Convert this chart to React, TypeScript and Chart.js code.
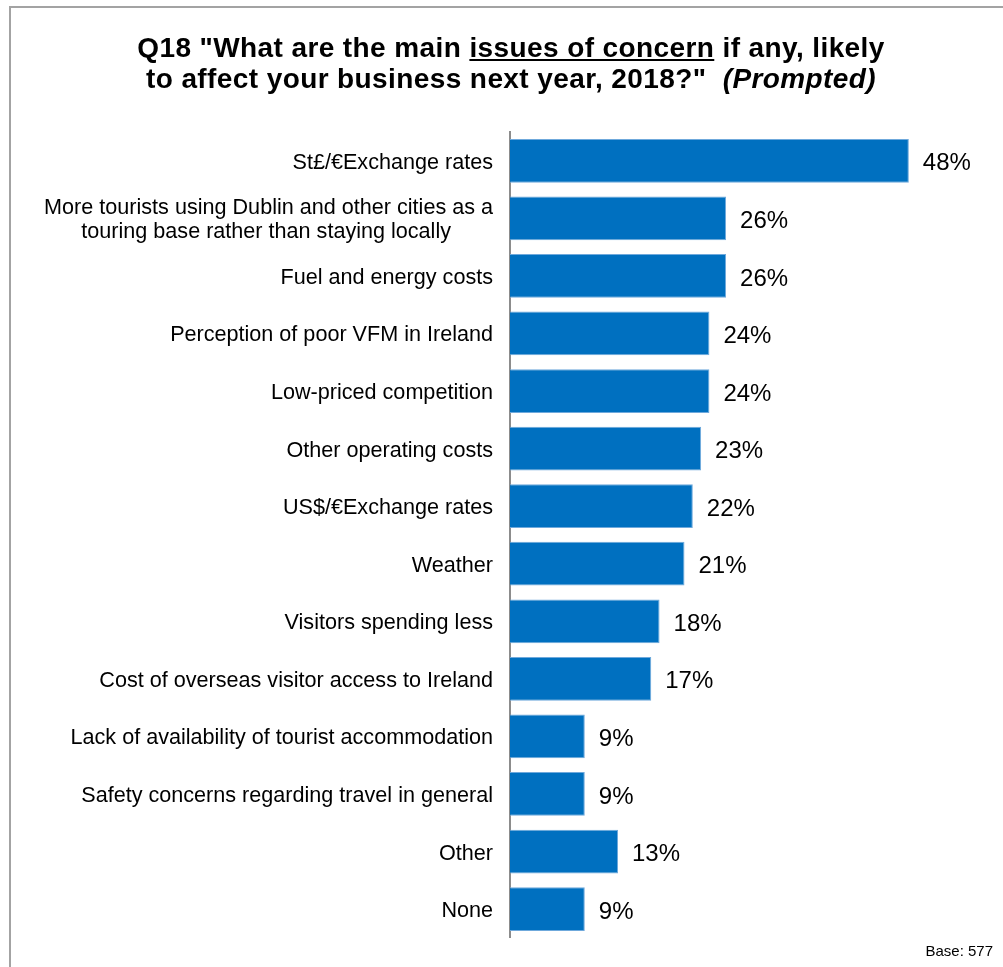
import React, { useEffect, useRef } from 'react';
import { Chart, registerables } from 'chart.js';

Chart.register(...registerables);

const categories: (string | string[])[] = [
  'St£/€Exchange rates',
  ['More tourists using Dublin and other cities as a', 'touring base rather than staying locally'],
  'Fuel and energy costs',
  'Perception of poor VFM in Ireland',
  'Low-priced competition',
  'Other operating costs',
  'US$/€Exchange rates',
  'Weather',
  'Visitors spending less',
  'Cost of overseas visitor access to Ireland',
  'Lack of availability of tourist accommodation',
  'Safety concerns regarding travel in general',
  'Other',
  'None',
];
const values = [48, 26, 26, 24, 24, 23, 22, 21, 18, 17, 9, 9, 13, 9];
const valueLabels = values.map((v) => `${v}%`);
const xMin = 0;
const xMax = 55;
const baseText = 'Base: 577';

const FONT = '"Liberation Sans", Arial, Helvetica, sans-serif';
const LABEL_FONT_SIZE = 21.6;

// centre the lines of multi-line category labels (right-aligned by the axis)
let measureCtx: CanvasRenderingContext2D | null = null;
function centreLines(label: string | string[]): string | string[] {
  if (!Array.isArray(label)) return label;
  if (!measureCtx) {
    const c = document.createElement('canvas');
    measureCtx = c.getContext('2d');
  }
  const ctx = measureCtx!;
  ctx.font = `${LABEL_FONT_SIZE}px ${FONT}`;
  const widths = label.map((l) => ctx.measureText(l).width);
  const maxW = Math.max(...widths);
  const sp = ctx.measureText(' ').width;
  return label.map((l, i) => l + ' '.repeat(Math.round((maxW - widths[i]) / 2 / sp)));
}

const valueLabelPlugin = {
  id: 'valueLabels',
  afterDatasetsDraw(chart: any) {
    const { ctx } = chart;
    const meta = chart.getDatasetMeta(0);
    ctx.save();
    ctx.font = `24px ${FONT}`;
    ctx.fillStyle = '#000';
    ctx.textAlign = 'left';
    ctx.textBaseline = 'middle';
    meta.data.forEach((bar: any, i: number) => {
      ctx.fillText(valueLabels[i], bar.x + 14, bar.y + 3);
    });
    ctx.restore();
  },
};

export default function App() {
  const canvasRef = useRef<HTMLCanvasElement>(null);

  useEffect(() => {
    document.body.style.margin = '0';
    const canvas = canvasRef.current;
    if (!canvas) return;
    const chart = new Chart(canvas, {
      type: 'bar',
      data: {
        labels: categories,
        datasets: [
          {
            data: values,
            backgroundColor: '#0070C0',
            borderColor: '#6fa9dc',
            borderWidth: 1,
            barPercentage: 0.76,
            categoryPercentage: 1,
          },
        ],
      },
      options: {
        indexAxis: 'y',
        responsive: false,
        animation: false,
        devicePixelRatio: 1,
        layout: { padding: { top: 132, bottom: 25, left: 0, right: 36 } },
        plugins: {
          legend: { display: false },
          title: { display: false },
          tooltip: { enabled: false },
        },
        scales: {
          x: {
            display: false,
            min: xMin,
            max: xMax,
          },
          y: {
            afterFit: (scale: any) => {
              scale.width = 510;
            },
            grid: { display: false, drawTicks: false },
            border: { display: true, color: '#8c8c8c', width: 2 },
            ticks: {
              padding: 17,
              labelOffset: 2,
              color: '#000',
              font: { family: FONT, size: LABEL_FONT_SIZE, lineHeight: 1.12 },
              callback: function (this: any, _v: any, index: number) {
                return centreLines(categories[index]);
              },
            },
          },
        },
      },
      plugins: [valueLabelPlugin],
    });
    return () => chart.destroy();
  }, []);

  return (
    <div style={{ position: 'relative', width: 1003, height: 967, overflow: 'hidden', background: '#fff' }}>
      <div
        style={{
          position: 'absolute',
          left: 9,
          top: 6,
          width: 1200,
          height: 1200,
          borderLeft: '2px solid #a3a3a3',
          borderTop: '2px solid #a3a3a3',
          boxSizing: 'border-box',
        }}
      />
      <canvas ref={canvasRef} width={1003} height={967} style={{ position: 'absolute', left: 0, top: 0 }} />
      <div
        style={{
          position: 'absolute',
          left: 9,
          top: 32,
          width: 1004,
          textAlign: 'center',
          fontFamily: FONT,
          fontWeight: 'bold',
          fontSize: 28,
          lineHeight: '31px',
          letterSpacing: '0.4px',
          color: '#000',
        }}
      >
        Q18 "What are the main <span style={{ textDecoration: 'underline' }}>issues of concern</span> if any, likely
        <br />
        to affect your business next year, 2018?"&nbsp; <span style={{ fontStyle: 'italic' }}>(Prompted)</span>
      </div>
      <div
        style={{
          position: 'absolute',
          right: 10,
          top: 942,
          fontFamily: FONT,
          fontSize: 15,
          lineHeight: '17px',
          color: '#000',
        }}
      >
        {baseText}
      </div>
    </div>
  );
}
